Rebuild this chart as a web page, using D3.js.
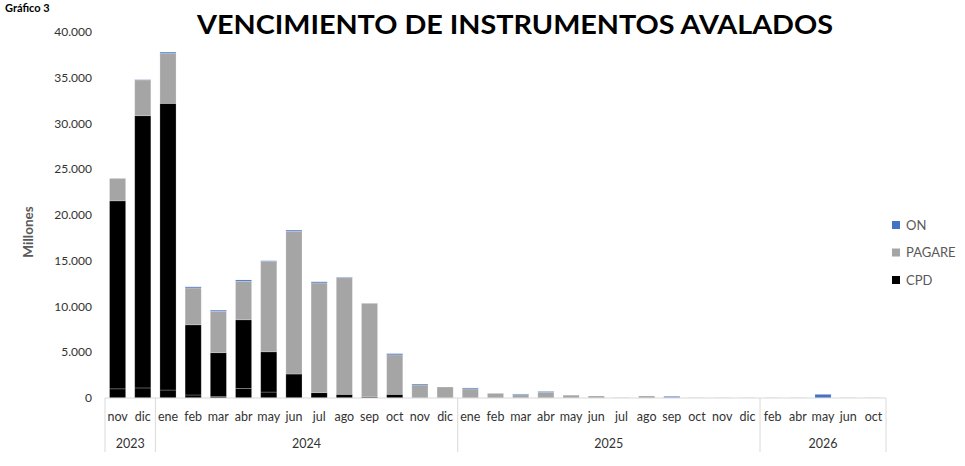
<!DOCTYPE html>
<html>
<head>
<meta charset="utf-8">
<script src="https://cdn.jsdelivr.net/npm/d3@7"></script>
<style>
  body { margin: 0; background: #fff; }
  svg { font-family: Lato, "Open Sans", sans-serif; }
</style>
</head>
<body>
<svg id="chart" width="965" height="466"></svg>
<script>
const months = ['nov', 'dic', 'ene', 'feb', 'mar', 'abr', 'may', 'jun', 'jul', 'ago', 'sep', 'oct', 'nov', 'dic',
  'ene', 'feb', 'mar', 'abr', 'may', 'jun', 'jul', 'ago', 'sep', 'oct', 'nov', 'dic',
  'feb', 'abr', 'may', 'jun', 'oct'];
const years = [{year: '2023', count: 2}, {year: '2024', count: 12}, {year: '2025', count: 12}, {year: '2026', count: 5}];

// millones
const cpdBase = [1000, 1100, 870, 330, 150, 1050, 650, 0, 0, 0, 0, 0, 0, 0,
  0, 0, 0, 0, 0, 0, 0, 0, 0, 0, 0, 0, 0, 0, 0, 0, 0];
const cpd = [21550, 30850, 32200, 8000, 4950, 8550, 5050, 2620, 580, 400, 120, 400, 0, 0,
  0, 0, 0, 0, 0, 0, 0, 0, 0, 0, 0, 0, 0, 0, 0, 0, 0];
const pagare = [2450, 3920, 5450, 4030, 4530, 4200, 9870, 15610, 12000, 12740, 10230, 4320, 1430, 1200,
  1000, 510, 360, 640, 310, 220, 30, 220, 30, 20, 20, 20, 20, 20, 0, 20, 20];
const on = [0, 30, 150, 120, 120, 150, 80, 120, 120, 60, 0, 130, 100, 0,
  100, 0, 80, 80, 0, 0, 0, 0, 150, 0, 0, 0, 0, 0, 400, 0, 0];

const yTicks = [0, 5000, 10000, 15000, 20000, 25000, 30000, 35000, 40000];
const seriesNames = ['ON', 'PAGARE', 'CPD'];
const colors = {ON: '#4472C4', PAGARE: '#A5A5A5', CPD: '#000000', CPD_BASE: '#000000'};

const plot = {left: 105, right: 886, top: 32, bottom: 398};

const rows = months.map((m, i) => ({
  i, CPD_BASE: cpdBase[i], CPD: cpd[i] - cpdBase[i], PAGARE: pagare[i], ON: on[i]
}));

const svg = d3.select('#chart');

const x = d3.scaleBand()
    .domain(d3.range(months.length))
    .range([plot.left, plot.right])
    .paddingInner(0.36)
    .paddingOuter(0.18);

const y = d3.scaleLinear()
    .domain([0, 40000])
    .range([plot.bottom, plot.top]);

const fmt = d3.formatLocale({decimal: ',', thousands: '.', grouping: [3], currency: ['$', '']}).format(',d');

// y axis labels
svg.append('g')
    .selectAll('text')
    .data(yTicks)
    .join('text')
    .attr('x', 92)
    .attr('y', d => y(d))
    .attr('dy', '0.35em')
    .attr('text-anchor', 'end')
    .attr('font-size', 12)
    .attr('fill', '#333')
    .text(d => fmt(d));

// stacked bars
const stack = d3.stack().keys(['CPD_BASE', 'CPD', 'PAGARE', 'ON']);
const layers = stack(rows);

svg.append('g')
    .selectAll('g')
    .data(layers)
    .join('g')
    .attr('fill', d => colors[d.key])
    .selectAll('rect')
    .data(d => d)
    .join('rect')
    .attr('x', (d, i) => x(i))
    .attr('width', x.bandwidth())
    .attr('y', d => y(d[1]))
    .attr('height', d => Math.max(0, y(d[0]) - y(d[1])))
    .attr('stroke', 'rgba(255,255,255,0.3)')
    .attr('stroke-width', 0.75);

// x axis line
svg.append('line')
    .attr('x1', plot.left).attr('x2', plot.right)
    .attr('y1', plot.bottom).attr('y2', plot.bottom)
    .attr('stroke', '#d9d9d9');

// month labels
svg.append('g')
    .selectAll('text')
    .data(months)
    .join('text')
    .attr('x', (d, i) => x(i) + x.bandwidth() / 2)
    .attr('y', 421)
    .attr('text-anchor', 'middle')
    .attr('font-size', 12.5)
    .attr('fill', '#333')
    .text(d => d);

// year groups
let start = 0;
const groups = years.map(g => {
  const r = {year: g.year, from: start, to: start + g.count};
  start += g.count;
  return r;
});
const edge = i => plot.left + i * x.step();

svg.append('g')
    .selectAll('line')
    .data([0, ...groups.map(g => g.to)])
    .join('line')
    .attr('x1', edge).attr('x2', edge)
    .attr('y1', plot.bottom).attr('y2', 452)
    .attr('stroke', '#d9d9d9');

svg.append('g')
    .selectAll('text')
    .data(groups)
    .join('text')
    .attr('x', g => (edge(g.from) + edge(g.to)) / 2)
    .attr('y', 448)
    .attr('text-anchor', 'middle')
    .attr('font-size', 12.5)
    .attr('fill', '#333')
    .text(g => g.year);

// titles
svg.append('text')
    .attr('x', 5).attr('y', 12)
    .attr('font-size', 11)
    .attr('font-weight', 'bold')
    .text('Gráfico 3');

svg.append('text')
    .attr('x', 197).attr('y', 34)
    .attr('font-size', 26)
    .attr('font-weight', 'bold')
    .attr('textLength', 636)
    .attr('lengthAdjust', 'spacingAndGlyphs')
    .text('VENCIMIENTO DE INSTRUMENTOS AVALADOS');

svg.append('text')
    .attr('transform', 'translate(33,232) rotate(-90)')
    .attr('text-anchor', 'middle')
    .attr('font-size', 13.5)
    .attr('font-weight', 'bold')
    .attr('fill', '#595959')
    .text('Millones');

// legend
const legend = svg.append('g')
    .selectAll('g')
    .data(seriesNames)
    .join('g')
    .attr('transform', (d, i) => `translate(892,${225 + i * 27.5})`);

legend.append('rect')
    .attr('x', 0).attr('y', -4)
    .attr('width', 8).attr('height', 8)
    .attr('fill', d => colors[d]);

legend.append('text')
    .attr('x', 14)
    .attr('dy', '0.36em')
    .attr('font-size', 13)
    .attr('fill', '#595959')
    .text(d => d);
</script>
</body>
</html>
